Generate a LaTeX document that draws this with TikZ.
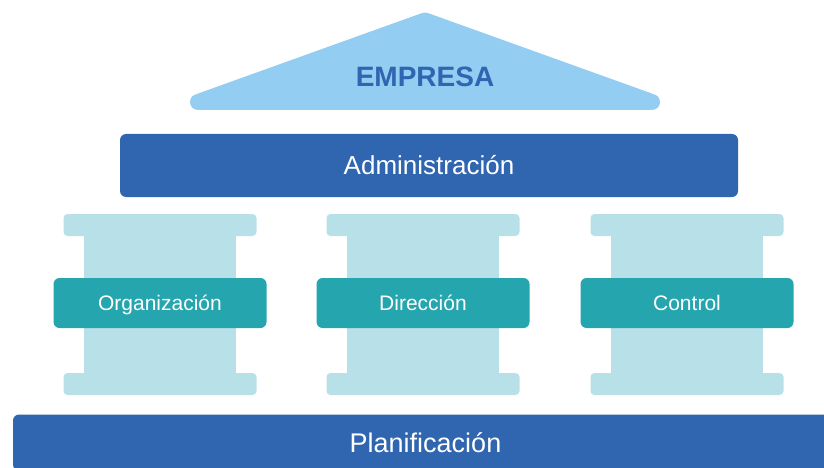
\documentclass[tikz,border=0pt]{standalone}
\usepackage{fontspec}
\setmainfont{Liberation Sans}
\usepackage{xcolor}
\usetikzlibrary{positioning}

\definecolor{roofblue}{HTML}{93CDF1}
\definecolor{textblue}{HTML}{2E66B1}
\definecolor{barblue}{HTML}{3065B0}
\definecolor{pillar}{HTML}{B8E0E8}
\definecolor{tealband}{HTML}{25A5AD}

\begin{document}
\begin{tikzpicture}[
  x=1pt, y=-1pt,
  bar/.style={rectangle, fill=barblue, rounded corners=6pt, inner sep=0pt, outer sep=0pt, text=white, text depth=0pt},
  pillarcap/.style={rectangle, fill=pillar, rounded corners=4pt, minimum width=193pt, minimum height=22pt, inner sep=0pt},
  shaft/.style={rectangle, fill=pillar, minimum width=152pt, minimum height=150pt, inner sep=0pt},
  band/.style={rectangle, fill=tealband, rounded corners=6pt, minimum width=213pt, minimum height=50pt, inner sep=0pt, text=white, text height=15pt, text depth=0pt, font=\fontsize{21}{24}\selectfont}
]
  \useasboundingbox (0,0) rectangle (824,468);
  \clip (0,0) rectangle (824,468);

  % roof
  \fill[roofblue, rounded corners=3pt] (425,12) -- (195.1,94.6) -- (198,110) -- (652,110) -- (654.9,94.6) -- cycle;
  \fill[roofblue] (198,102) circle[radius=8] (652,102) circle[radius=8];
  \node[text=textblue, text height=20pt, text depth=0pt, inner sep=0pt, font=\bfseries\fontsize{28}{32}\selectfont] (empresa) at (425,76.5) {EMPRESA};

  % beams
  \node[bar, minimum width=618pt, minimum height=63pt, text height=18.6pt, font=\fontsize{26}{30}\selectfont] (admin) at (429,165.5) {Administración};
  \node[bar, minimum width=825pt, minimum height=56pt, text height=19.3pt, font=\fontsize{27}{30}\selectfont] (plan) at (425.5,442.5) {Planificación};

  % columns
  \foreach \name/\cx/\txt in {org/160/Organización, dir/423/Dirección, ctl/687/Control} {
    \node[shaft] (\name-shaft) at (\cx,304.5) {};
    \node[pillarcap] (\name-top) at (\cx,225) {};
    \node[pillarcap] (\name-bot) at (\cx,384) {};
    \node[band] (\name) at (\cx,303) {\txt};
  }
\end{tikzpicture}
\end{document}
